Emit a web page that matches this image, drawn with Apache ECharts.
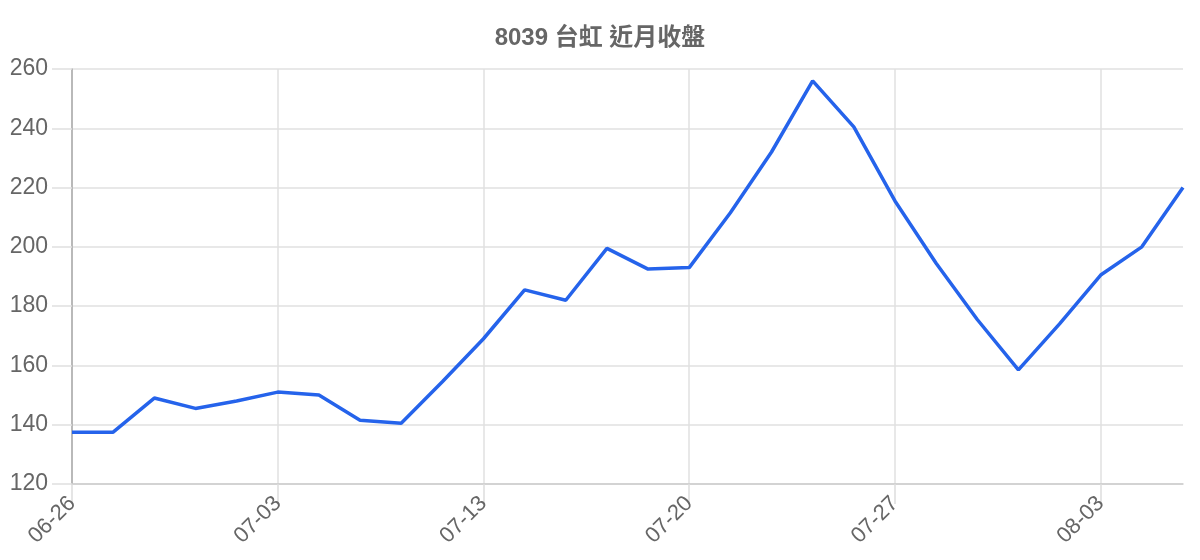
<!DOCTYPE html>
<html>
<head>
<meta charset="utf-8">
<script src="https://cdn.jsdelivr.net/npm/echarts@6/dist/echarts.min.js"></script>
<style>
html,body{margin:0;padding:0;background:#fff;}
#chart{width:1200px;height:560px;}
</style>
</head>
<body>
<div id="chart"></div>
<script>
const titleText = '8039 台虹 近月收盤';
const dates = ['06-26','06-29','06-30','07-01','07-02','07-03','07-06','07-07','07-08','07-09',
  '07-13','07-14','07-15','07-16','07-17','07-20','07-21','07-22','07-23','07-24',
  '07-27','07-28','07-29','07-30','07-31','08-03','08-04','08-05'];
const closes = [137.5,137.5,149,145.5,148,151,150,141.5,140.5,154.5,
  169,185.5,182,199.5,192.5,193,211.5,232,256,240.5,
  215.5,194.5,175.5,158.5,174,190.5,200,220];
const yMin = 120, yMax = 260, yStep = 20;

const fontFam = '"Liberation Sans", "Noto Sans CJK TC", sans-serif';
const chart = echarts.init(document.getElementById('chart'));
chart.setOption({
  animation: false,
  title: {
    text: titleText,
    left: 'center',
    top: 21,
    textStyle: {fontSize: 24, fontWeight: 'bold', color: '#666', fontFamily: fontFam}
  },
  grid: {left: 72, right: 17, top: 69, bottom: 76, containLabel: false},
  xAxis: {
    type: 'category',
    data: dates,
    boundaryGap: false,
    axisLine: {show: true, lineStyle: {color: '#ccc', width: 1.5}},
    axisTick: {show: true, interval: 4, length: 20, lineStyle: {color: '#ddd', width: 1.5}},
    splitLine: {show: true, interval: 4, lineStyle: {color: '#e0e0e0', width: 1.5}},
    axisLabel: {interval: 4, rotate: 45, margin: 16, fontSize: 22, color: '#666', fontFamily: fontFam}
  },
  yAxis: {
    type: 'value',
    min: yMin, max: yMax, interval: yStep,
    axisLine: {show: true, lineStyle: {color: '#aaa', width: 1.5}},
    axisTick: {show: true, length: 20, lineStyle: {color: '#e0e0e0', width: 1.5}},
    splitLine: {show: true, lineStyle: {color: '#e0e0e0', width: 1.5}},
    axisLabel: {margin: 24, fontSize: 23, color: '#666', fontFamily: fontFam}
  },
  series: [{
    type: 'line',
    data: closes,
    showSymbol: false,
    symbol: 'none',
    lineStyle: {color: '#2563eb', width: 3.5},
    itemStyle: {color: '#2563eb'}
  }]
});
</script>
</body>
</html>
